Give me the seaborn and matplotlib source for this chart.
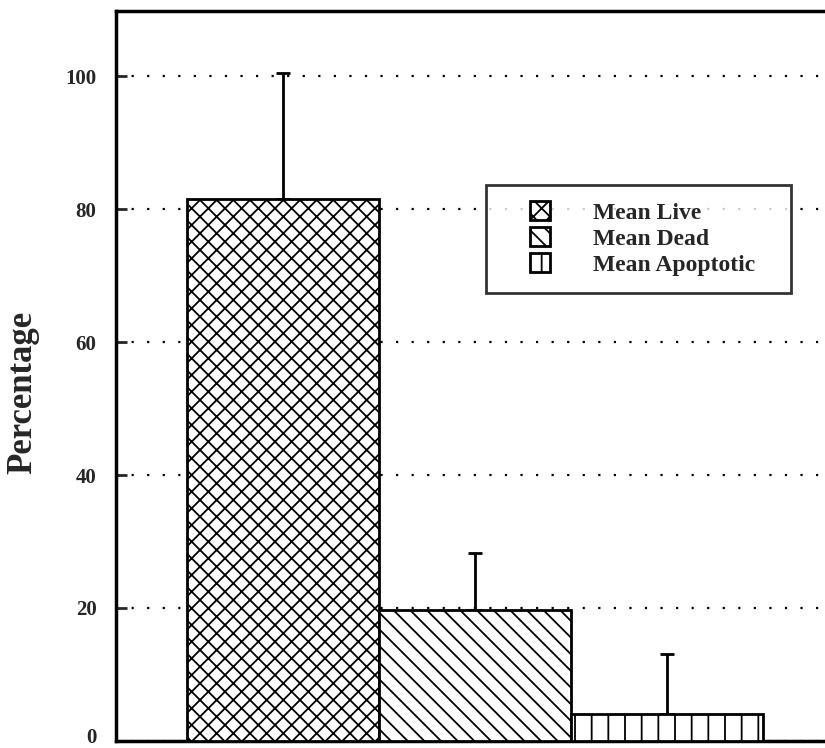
import seaborn as sns
import numpy as np
import pandas as pd
import matplotlib.pyplot as plt
from matplotlib.patches import Patch, Rectangle
from matplotlib.legend_handler import HandlerPatch
from matplotlib.transforms import ScaledTranslation

sns.set_style("white")
plt.rcParams['font.family'] = ['Liberation Serif', 'DejaVu Serif']
plt.rcParams['font.weight'] = 'bold'
plt.rcParams['hatch.linewidth'] = 1.3

groups = ['Mean Live', 'Mean Dead', 'Mean Apoptotic']
means = [81.5, 19.7, 4.1]
err_up = [19.0, 8.5, 9.0]
hatches = ['xx', '\\\\', '|']

df = pd.DataFrame({'group': groups, 'pct': means})

fig = plt.figure(figsize=(8.25, 7.48), dpi=100)
ax = fig.add_axes([0.1406, 0.0094, 0.859, 0.976])

sns.barplot(data=df, x='group', y='pct', color='white', width=1.0,
            edgecolor='black', linewidth=2, ax=ax, zorder=3)
for bar, h in zip(ax.patches, hatches):
    bar.set_hatch(h)

ax.errorbar(range(len(groups)), means, yerr=[np.zeros(len(means)), err_up],
            fmt='none', ecolor='black', elinewidth=2, capsize=5, capthick=2, zorder=2)

ax.set_xlim(-0.87, 2.82)
ax.set_ylim(0, 109.8)
ax.set_yticks([0, 20, 40, 60, 80, 100])
ax.set_xticks([])
ax.set_xlabel('')
ax.set_ylabel('Percentage', fontsize=25, fontweight='bold')
ax.yaxis.set_label_coords(-0.108, 0.478)
ax.tick_params(axis='y', direction='in', length=8, width=2, labelsize=15, pad=14, left=True)
ax.yaxis.grid(True, linestyle=(0, (1, 6)), color='black', linewidth=1.6)
ax.set_axisbelow(True)
for s in ['left', 'top', 'bottom']:
    ax.spines[s].set_linewidth(2.5)
    ax.spines[s].set_color('black')
ax.spines['right'].set_visible(False)

# keep the "0" label inside the canvas
zero = ax.get_yticklabels()[0]
zero.set_transform(zero.get_transform() + ScaledTranslation(0, 0.05, fig.dpi_scale_trans))


def small_box(legend, orig_handle, xdescent, ydescent, width, height, fontsize):
    # square icon pushed to the right end of the handle slot
    w = 14.4
    return Rectangle((-xdescent + width - w, -ydescent), w, height)


handles = [Patch(facecolor='white', edgecolor='black', hatch=h, linewidth=2) for h in hatches]
leg = ax.legend(handles, groups, loc='upper left', bbox_to_anchor=(0.522, 0.609, 0.430, 0.153),
                mode='expand', frameon=True, fancybox=False, edgecolor='black', fontsize=17,
                handlelength=2.0, handleheight=0.85, handletextpad=1.85,
                borderpad=0.7, labelspacing=0.15, borderaxespad=0,
                handler_map={Patch: HandlerPatch(patch_func=small_box)})
leg.get_frame().set_linewidth(2)

fig.savefig('out.png', dpi=100)
